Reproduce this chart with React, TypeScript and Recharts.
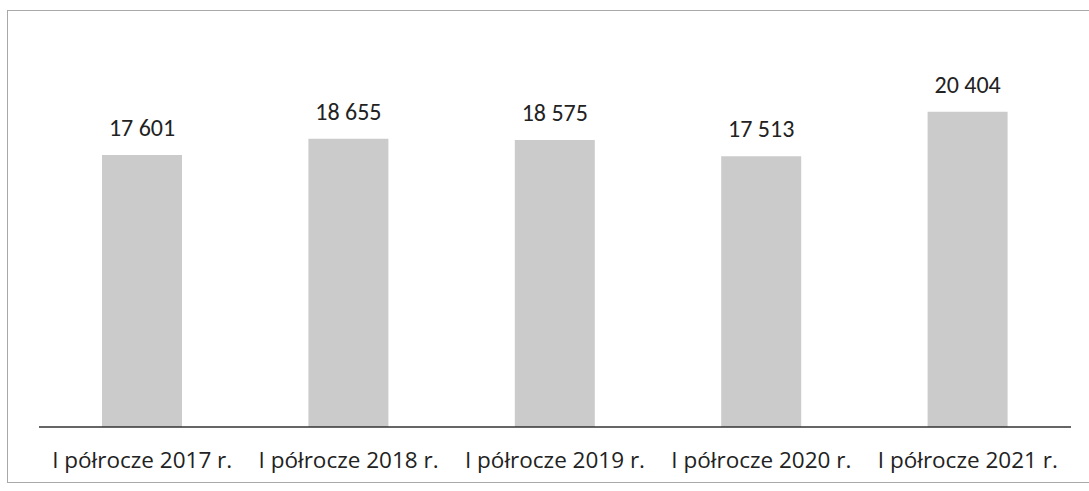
import { Bar, BarChart, LabelList, XAxis, YAxis } from "recharts";

const categories = [
  "I półrocze 2017 r.",
  "I półrocze 2018 r.",
  "I półrocze 2019 r.",
  "I półrocze 2020 r.",
  "I półrocze 2021 r.",
];
const values = [17601, 18655, 18575, 17513, 20404];

const data = categories.map((name, i) => ({ name, value: values[i] }));

const fmt = (v: number) => {
  const s = String(v);
  return s.length > 3 ? `${s.slice(0, s.length - 3)} ${s.slice(-3)}` : s;
};

const font = "Carlito, Lato, 'Open Sans', sans-serif";

function CategoryTick({ x, y, payload }: any) {
  return (
    <text
      x={x}
      y={y + 33}
      textAnchor="middle"
      fontSize={22.5}
      fill="#222"
      fontFamily="'Open Sans', sans-serif"
    >
      {payload.value}
    </text>
  );
}

export default function App() {
  return (
    <div style={{ position: "absolute", left: 0, top: 0, width: 1089, height: 491, background: "#fff", overflow: "hidden" }}>
      <div
        style={{
          position: "absolute",
          left: 7,
          top: 10,
          width: 1100,
          height: 473,
          border: "1px solid #a8a8a8",
          boxSizing: "border-box",
        }}
      />
      <div style={{ position: "absolute", left: 0, top: 0 }}>
        <BarChart width={1089} height={491} data={data} margin={{ top: 87, right: 18, bottom: 24, left: 39 }}>
          <XAxis
            dataKey="name"
            height={40}
            tickLine={false}
            axisLine={{ stroke: "#333", strokeWidth: 1.5 }}
            tick={<CategoryTick />}
            interval={0}
          />
          <YAxis hide domain={[0, 22000]} />
          <Bar dataKey="value" fill="#cbcbcb" barSize={80} isAnimationActive={false}>
            <LabelList
              dataKey="value"
              position="top"
              offset={19}
              formatter={(v: any) => fmt(Number(v))}
              style={{ fontSize: 24, fill: "#222", fontFamily: font }}
            />
          </Bar>
        </BarChart>
      </div>
    </div>
  );
}
